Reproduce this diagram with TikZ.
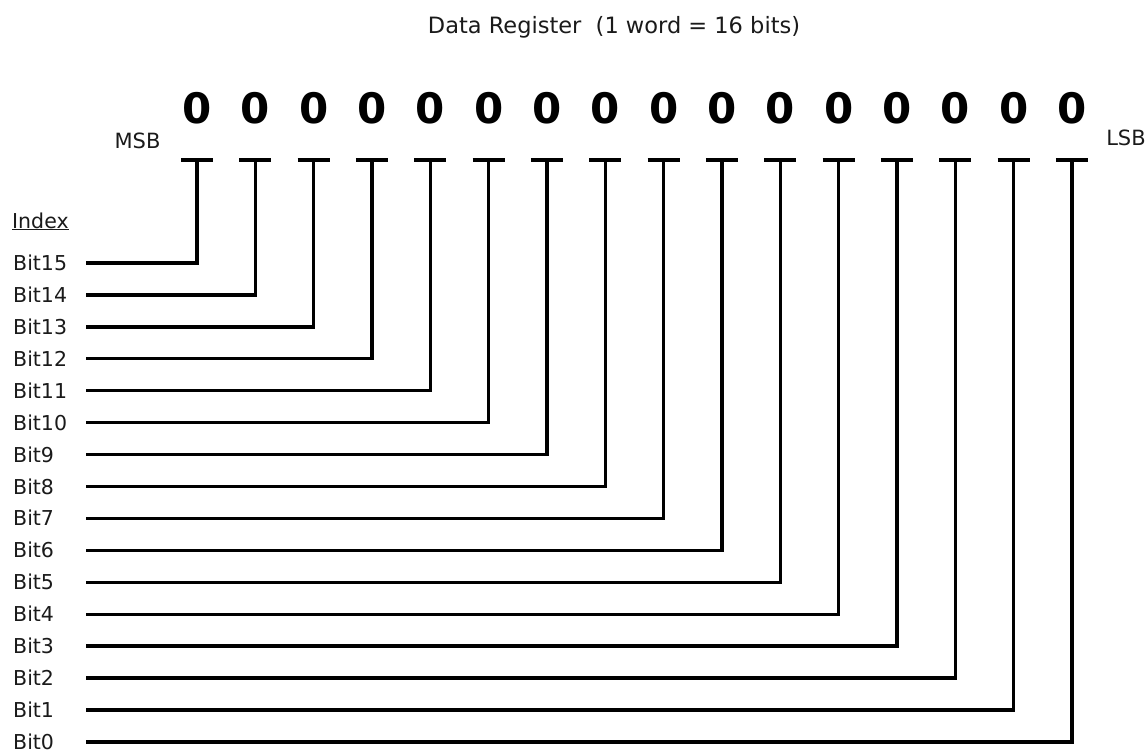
\documentclass[tikz,border=0pt]{standalone}
\usepackage{fontspec}
\setmainfont{DejaVu Sans}
\definecolor{txt}{HTML}{1A1A1A}
\begin{document}
\begin{tikzpicture}[x=1pt,y=-1pt,
  wire/.style={line width=3.4pt, line join=miter, draw=black},
  lbl/.style={font=\fontsize{20.5}{24}\selectfont, text=txt, inner sep=0pt, anchor=base west},
  side/.style={font=\fontsize{21}{25}\selectfont, text=txt, inner sep=0pt, anchor=base},
  zero/.style={font=\fontsize{42}{44}\selectfont\bfseries, text=black, inner sep=0pt, anchor=center}]
\useasboundingbox (0,0) rectangle (1148,753);
\node[font=\fontsize{22.5}{27}\selectfont, text=txt, inner sep=0pt, anchor=base] (title) at (614,33) {Data Register\ \ (1 word = 16 bits)};
\node[side] (msb) at (137.5,148) {MSB};
\node[side] (lsb) at (1126,145) {LSB};
\node[lbl] (index) at (12,228) {\underline{Index}};
\foreach \r in {0,...,15}{
  \pgfmathsetmacro\bx{197+58.33*\r}
  \pgfmathsetmacro\ly{263+31.93*\r}
  \pgfmathtruncatemacro\b{15-\r}
  \node[zero] (z\b) at (\bx,108) {0};
  \coordinate (t\b) at (\bx,160);
  \coordinate (s\b) at (86,\ly);
  \node[lbl] (b\b) at (13,\ly+7.5) {Bit\b};
  \draw[wire] ([xshift=-16pt]t\b) -- ([xshift=16pt]t\b);
  \draw[wire] (s\b) -| (t\b);
}
\end{tikzpicture}
\end{document}
